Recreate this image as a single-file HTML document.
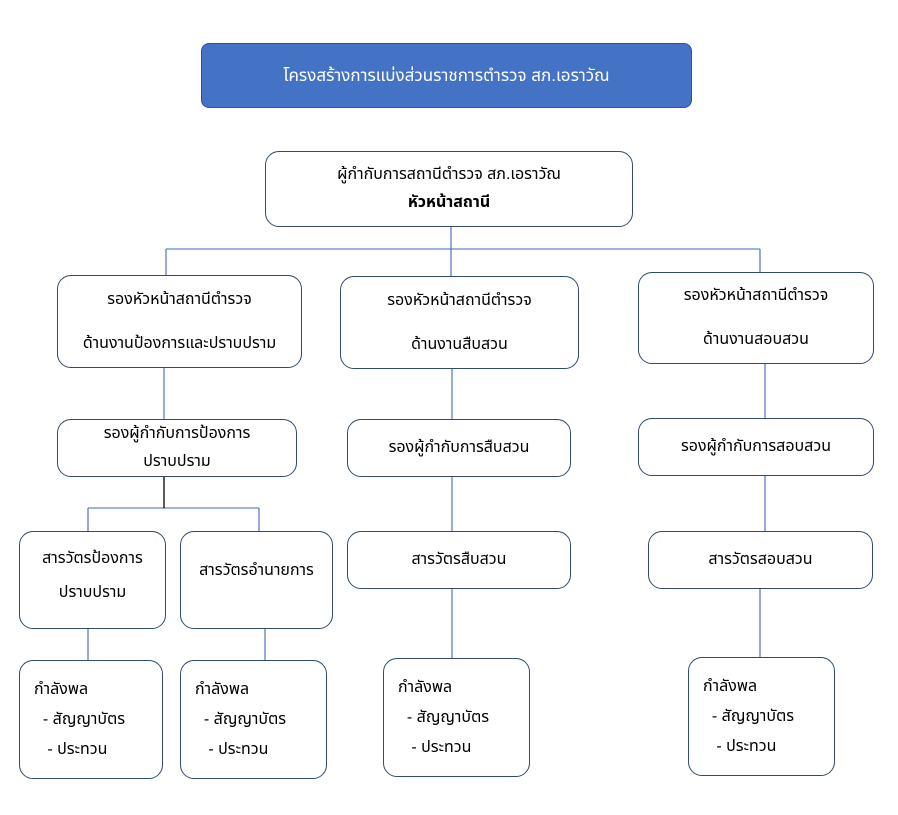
<!DOCTYPE html>
<html><head><meta charset="utf-8">
<style>
html,body{margin:0;padding:0;background:#fff;}
body{width:898px;height:815px;position:relative;overflow:hidden;font-family:"Liberation Sans","Noto Sans Thai","Tahoma",sans-serif;color:#000;font-size:16px;}
.b{position:absolute;box-sizing:border-box;border:1.5px solid #2f4b6e;border-radius:14px;background:#fff;display:flex;flex-direction:column;justify-content:center;align-items:center;text-align:center;line-height:30px;}
.l{align-items:flex-start;text-align:left;padding-left:14px;line-height:30px;}
svg{position:absolute;left:0;top:0;}
</style></head><body>
<svg width="898" height="815">
<g stroke="#3f68b5" stroke-width="1.1" fill="none">
<path d="M451 227V249M166 249H760M166 249V275M451 249V276M760 249V272"/>
<path d="M164 368V419M452 369V419M765 364V418"/>
<path d="M88 508H259M88 508V531M259 508V531"/>
<path d="M88 629V660M265 629V660M452 589V658M760 589V657M452 477V531M765 476V531"/>
</g>
<path d="M164 477V508" stroke="#000" stroke-width="1.3"/>
</svg>
<div class="b" style="left:201px;top:43px;width:491px;height:65px;background:#4472c4;border-color:#2f528f;border-radius:8px;color:#fff;font-size:17px;">โครงสร้างการแบ่งส่วนราชการตำรวจ สภ.เอราวัณ</div>
<div class="b" style="left:265px;top:151px;width:368px;height:76px;font-size:16px;line-height:28px;">ผู้กำกับการสถานีตำรวจ สภ.เอราวัณ<br><b>หัวหน้าสถานี</b></div>
<div class="b" style="left:57px;top:275px;width:245px;height:93px;line-height:44px;">รองหัวหน้าสถานีตำรวจ<br>ด้านงานป้องการและปราบปราม</div>
<div class="b" style="left:340px;top:276px;width:239px;height:93px;line-height:44px;">รองหัวหน้าสถานีตำรวจ<br>ด้านงานสืบสวน</div>
<div class="b" style="left:638px;top:272px;width:236px;height:92px;line-height:44px;">รองหัวหน้าสถานีตำรวจ<br>ด้านงานสอบสวน</div>
<div class="b" style="left:57px;top:419px;width:240px;height:58px;line-height:28px;">รองผู้กำกับการป้องการ<br>ปราบปราม</div>
<div class="b" style="left:347px;top:419px;width:224px;height:58px;">รองผู้กำกับการสืบสวน</div>
<div class="b" style="left:638px;top:418px;width:236px;height:58px;">รองผู้กำกับการสอบสวน</div>
<div class="b" style="left:19px;top:531px;width:147px;height:98px;justify-content:flex-start;padding-top:10px;line-height:34px;">สารวัตรป้องการ<br>ปราบปราม</div>
<div class="b" style="left:180px;top:531px;width:153px;height:98px;justify-content:flex-start;padding-top:24px;">สารวัตรอำนายการ</div>
<div class="b" style="left:347px;top:531px;width:224px;height:58px;">สารวัตรสืบสวน</div>
<div class="b" style="left:648px;top:531px;width:225px;height:58px;">สารวัตรสอบสวน</div>
<div class="b l" style="left:19px;top:660px;width:144px;height:119px;">กำลังพล<br>&nbsp;&nbsp;- สัญญาบัตร<br>&nbsp;&nbsp;&nbsp;- ประทวน</div>
<div class="b l" style="left:180px;top:660px;width:147px;height:119px;">กำลังพล<br>&nbsp;&nbsp;- สัญญาบัตร<br>&nbsp;&nbsp;&nbsp;- ประทวน</div>
<div class="b l" style="left:383px;top:658px;width:147px;height:119px;">กำลังพล<br>&nbsp;&nbsp;- สัญญาบัตร<br>&nbsp;&nbsp;&nbsp;- ประทวน</div>
<div class="b l" style="left:688px;top:657px;width:147px;height:119px;">กำลังพล<br>&nbsp;&nbsp;- สัญญาบัตร<br>&nbsp;&nbsp;&nbsp;- ประทวน</div>
</body></html>
